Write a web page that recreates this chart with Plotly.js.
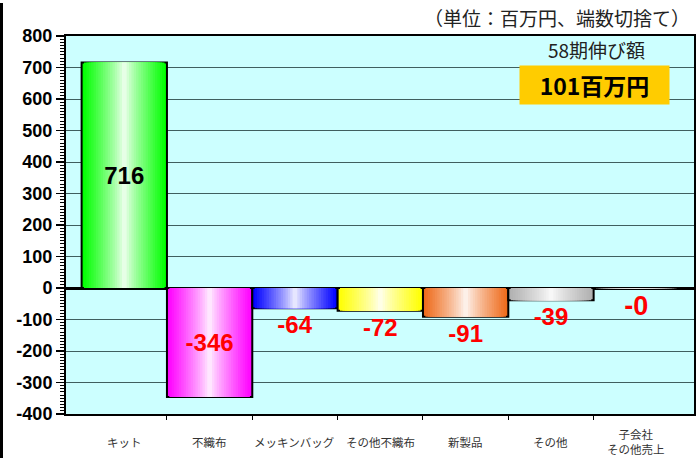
<!DOCTYPE html>
<html>
<head>
<meta charset="utf-8">
<script src="https://cdn.plot.ly/plotly-3.0.1.min.js"></script>
<style>
  html, body { margin: 0; padding: 0; background: #ffffff; }
  #wrap { position: relative; width: 697px; height: 458px; }
  #chart { position: absolute; left: 0; top: 0; width: 697px; height: 458px; }
  #edge { position: absolute; left: 0; top: 3px; width: 3px; height: 455px; background: #000; z-index: 10; }
</style>
</head>
<body>
<div id="wrap"><div id="chart"></div><div id="edge"></div></div>
<script>
// ---- data ----
const categories = ['キット', '不織布', 'メッキンバッグ', 'その他不織布', '新製品', 'その他', '子会社<br>その他売上'];
const values = [716, -346, -64, -72, -91, -39, -0.4];
const labels = ['716', '-346', '-64', '-72', '-91', '-39', '-0'];
const barColors = ['#00ff00', '#ff00ff', '#0000ff', '#ffff00', '#ee6a1a', '#b0b0b0', '#cccccc'];
const yTickVals = [-400, -300, -200, -100, 0, 100, 200, 300, 400, 500, 600, 700, 800];
const yTickText = ['-400', '-300', '-200', '-100', '0', '100', '200', '300', '400', '500', '600', '700', '800'];
const titleText = '（単位：百万円、端数切捨て）';
const noteText = '58期伸び額';
const totalText = '101百万円';

// ---- helpers ----
const xs = categories.map((c, i) => i);
function mix(hex, t) {
  const r = parseInt(hex.slice(1, 3), 16), g = parseInt(hex.slice(3, 5), 16), b = parseInt(hex.slice(5, 7), 16);
  const m = v => Math.round(v * t + 255 * (1 - t));
  return 'rgb(' + m(r) + ',' + m(g) + ',' + m(b) + ')';
}

// gradient layers: full colour at edges, white at centre
const traces = [];
const N = 18;
for (let k = 0; k < N; k++) {
  const w = 1 - k / N;
  const t = Math.pow(w, 0.8);
  traces.push({
    type: 'bar',
    x: xs,
    y: values,
    width: w,
    marker: {
      color: barColors.map(c => mix(c, t)),
      line: { color: '#000', width: k === 0 ? 2 : 0 }
    },
    hoverinfo: 'skip'
  });
}
// label layer
const small = values.map(v => Math.abs(v) < 1);
traces.push({
  type: 'bar',
  x: xs,
  y: values,
  width: 1,
  marker: { color: 'rgba(0,0,0,0)', line: { width: 0 } },
  text: labels,
  textposition: values.map(v => Math.abs(v) > 200 ? 'inside' : 'outside'),
  insidetextanchor: 'middle',
  constraintext: 'none',
  cliponaxis: false,
  textfont: {
    family: 'Liberation Sans, Arial, sans-serif',
    size: small.map(s => s ? 27 : 24),
    color: values.map(v => v > 0 ? '#000000' : '#ff0000'),
    weight: 'bold'
  },
  hoverinfo: 'skip'
});

const annotations = categories.map((c, i) => ({
  x: i, xref: 'x', y: -0.074, yref: 'paper', yanchor: 'middle', xanchor: 'center',
  text: c, showarrow: false,
  font: { family: 'Noto Sans CJK JP, sans-serif', size: 11.5, color: '#333333' }
}));
annotations.push({
  x: 0.9968, xref: 'paper', xanchor: 'right', y: 1.050, yref: 'paper', yanchor: 'middle',
  text: titleText, showarrow: false,
  font: { family: 'Noto Sans CJK JP, sans-serif', size: 19, color: '#222222' }
});
annotations.push({
  x: 0.8455, xref: 'paper', xanchor: 'center', y: 0.963, yref: 'paper', yanchor: 'middle',
  text: noteText, showarrow: false,
  font: { family: 'Noto Sans CJK JP, sans-serif', size: 19, color: '#222222' }
});
annotations.push({
  x: 0.8416, xref: 'paper', xanchor: 'center', y: 0.8704, yref: 'paper', yanchor: 'middle',
  text: '<b>' + totalText + '</b>', showarrow: false,
  width: 141, height: 30, borderpad: 4, bgcolor: '#ffcc00',
  font: { family: 'Noto Sans CJK JP, sans-serif', size: 23, color: '#000000' }
});

const layout = {
  width: 697, height: 458,
  margin: { l: 66, r: 3, t: 36, b: 44, pad: 0 },
  paper_bgcolor: '#ffffff',
  plot_bgcolor: '#ccffff',
  barmode: 'overlay',
  showlegend: false,
  xaxis: {
    range: [-0.683, 6.676],
    tickmode: 'array',
    tickvals: xs.slice(1).map(i => i - 0.5),
    showticklabels: false,
    ticks: 'outside', ticklen: 4, tickwidth: 1, tickcolor: '#000',
    showgrid: false, zeroline: false,
    showline: true, linecolor: '#000', linewidth: 2, mirror: true,
    fixedrange: true
  },
  yaxis: {
    range: [-400, 800],
    tickmode: 'array',
    tickvals: yTickVals,
    ticktext: yTickText,
    ticks: 'outside', ticklen: 8, tickwidth: 1.5, tickcolor: '#000',
    minor: { dtick: 10, tick0: 0, ticks: 'outside', ticklen: 4, tickwidth: 1, tickcolor: '#000', showgrid: false },
    showgrid: true, gridcolor: '#3f5f5f', gridwidth: 1,
    zeroline: true, zerolinecolor: '#000', zerolinewidth: 3,
    showline: true, linecolor: '#000', linewidth: 2, mirror: true,
    tickfont: { family: 'Liberation Sans, Arial, sans-serif', size: 18, color: '#000', weight: 'bold' },
    fixedrange: true
  },
  annotations: annotations
};

Plotly.newPlot('chart', traces, layout, { displayModeBar: false, staticPlot: true });
</script>
</body>
</html>
